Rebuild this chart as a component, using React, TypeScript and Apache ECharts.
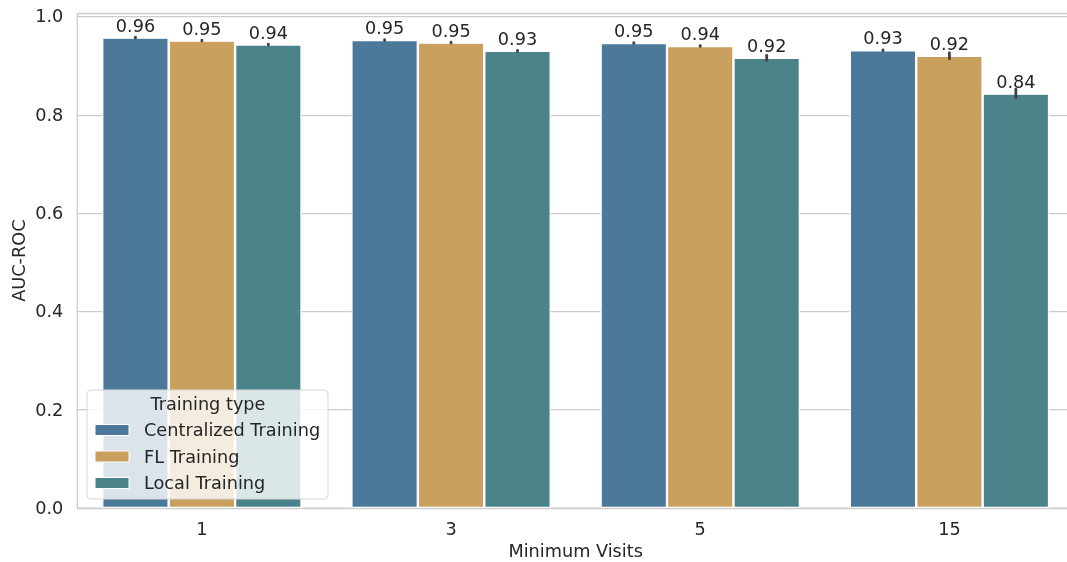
import React, { useEffect, useRef } from "react";
import * as echarts from "echarts";

// Minimum-visits thresholds on the x axis
const categories = ["1", "3", "5", "15"];
const seriesNames = ["Centralized Training", "FL Training", "Local Training"];
const colors = ["#4c7899", "#c9a05d", "#4b838a"];

// Mean AUC-ROC per training type
const centralized = [0.957, 0.952, 0.946, 0.931];
const fl = [0.951, 0.947, 0.94, 0.92];
const local = [0.943, 0.93, 0.916, 0.843];

// Half-width of the confidence interval per bar
const ciCentralized = [0.0008, 0.0008, 0.0008, 0.0008];
const ciFl = [0.0008, 0.0008, 0.0008, 0.006];
const ciLocal = [0.0008, 0.0008, 0.005, 0.009];

const yTicks = [0, 0.2, 0.4, 0.6, 0.8, 1.0];

const FONT = "DejaVu Sans";
const FS = 17.7;
const TEXT = "#262626";
const GRID = "#cccccc";

export default function App() {
  const ref = useRef<HTMLDivElement>(null);

  useEffect(() => {
    if (!ref.current) return;
    const chart = echarts.init(ref.current, undefined, { renderer: "svg" });

    const means = [centralized, fl, local];
    const cis = [ciCentralized, ciFl, ciLocal];

    const barSeries = means.map((vals, s) => ({
      type: "bar",
      name: seriesNames[s],
      data: vals,
      barGap: "0%",
      barCategoryGap: "20%",
      itemStyle: { color: colors[s], borderColor: "#ffffff", borderWidth: 1.2 },
      label: {
        show: true,
        position: "top",
        distance: 3,
        formatter: (p: any) => Number(p.value).toFixed(2),
        fontFamily: FONT,
        fontSize: FS,
        color: TEXT,
      },
      z: 2,
    }));

    const errSeries = cis.map((ci, s) => ({
      type: "custom",
      name: seriesNames[s] + " CI",
      data: ci.map((h, i) => [i, means[s][i] - h, means[s][i] + h]),
      encode: { x: 0, y: [1, 2] },
      z: 5,
      renderItem: (params: any, api: any) => {
        const band = api.size([1, 0])[0];
        const off = ((s - 1) * band * 0.8) / 3;
        const hi = api.coord([api.value(0), api.value(2)]);
        const lo = api.coord([api.value(0), api.value(1)]);
        return {
          type: "line",
          shape: { x1: hi[0] + off, y1: hi[1], x2: lo[0] + off, y2: lo[1] },
          style: { stroke: "#424242", lineWidth: 2.8, lineCap: "round" },
        };
      },
    }));

    // Legend box with title, drawn on top of the bars
    const lgX = 87;
    const lgY = 390;
    const rowY = [430, 456.5, 483];
    const legendChildren: any[] = [
      {
        type: "rect",
        z: 100,
        shape: { x: lgX, y: lgY, width: 241, height: 109, r: 4 },
        style: { fill: "rgba(255,255,255,0.8)", stroke: "#d6d6d6", lineWidth: 1 },
      },
      {
        type: "text",
        z: 101,
        x: 208,
        y: 404,
        style: {
          text: "Training type",
          font: `${FS}px "${FONT}"`,
          fill: TEXT,
          align: "center",
          verticalAlign: "middle",
        },
      },
    ];
    seriesNames.forEach((n, i) => {
      legendChildren.push({
        type: "rect",
        z: 101,
        shape: { x: 95, y: rowY[i] - 5.5, width: 34, height: 11 },
        style: { fill: colors[i], stroke: "#ffffff", lineWidth: 1 },
      });
      legendChildren.push({
        type: "text",
        z: 101,
        x: 144,
        y: rowY[i],
        style: {
          text: n,
          font: `${FS}px "${FONT}"`,
          fill: TEXT,
          align: "left",
          verticalAlign: "middle",
        },
      });
    });

    chart.setOption({
      animation: false,
      textStyle: { fontFamily: FONT },
      grid: {
        left: 77.3,
        top: 13.3,
        right: 6,
        bottom: 54,
        outerBoundsMode: "none",
        containLabel: false,
        show: true,
        borderColor: GRID,
        borderWidth: 1.25,
        backgroundColor: "transparent",
      },
      xAxis: {
        type: "category",
        data: categories,
        name: "Minimum Visits",
        nameLocation: "middle",
        nameGap: 34,
        nameMoveOverlap: false,
        nameTextStyle: { fontSize: FS, color: TEXT, fontFamily: FONT },
        axisLine: { show: false },
        axisTick: { show: false },
        axisLabel: { fontSize: FS, color: TEXT, margin: 12, fontFamily: FONT },
        splitLine: { show: false },
      },
      yAxis: {
        type: "value",
        min: 0,
        max: 1.0065,
        interval: 0.2,
        name: "AUC-ROC",
        nameLocation: "middle",
        nameGap: 49,
        nameMoveOverlap: false,
        nameTextStyle: { fontSize: FS, color: TEXT, fontFamily: FONT },
        axisLine: { show: false },
        axisTick: { show: false },
        axisLabel: {
          fontSize: FS,
          color: TEXT,
          margin: 14,
          fontFamily: FONT,
          formatter: (v: number) =>
            yTicks.some((t) => Math.abs(t - v) < 1e-6) ? v.toFixed(1) : "",
        },
        splitLine: { show: true, lineStyle: { color: GRID, width: 1.25 } },
      },
      series: [...barSeries, ...errSeries],
      graphic: [{ type: "group", children: legendChildren }],
    });

    return () => chart.dispose();
  }, []);

  return (
    <div
      ref={ref}
      style={{ position: "fixed", left: 0, top: 0, width: 1080, height: 562 }}
    />
  );
}
